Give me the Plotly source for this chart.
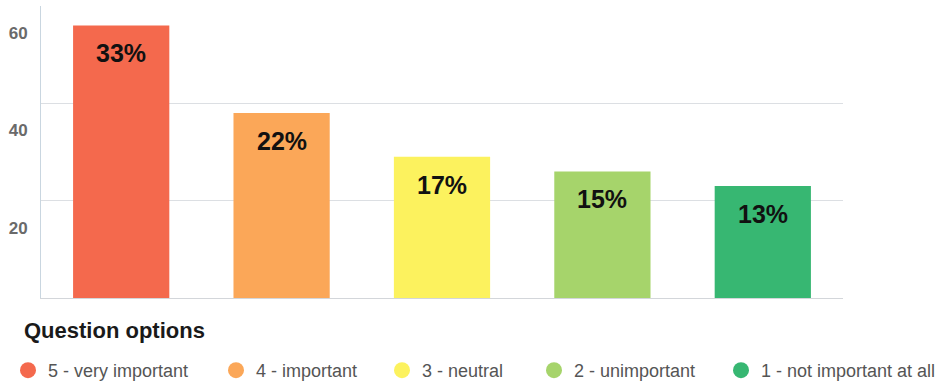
import plotly.graph_objects as go

# Survey answers: response counts per option
options = ["5 - very important", "4 - important", "3 - neutral",
           "2 - unimportant", "1 - not important at all"]
counts = [56, 38, 29, 26, 23]
colors = ["#F4694D", "#FBA758", "#FCF25E", "#A6D46B", "#37B772"]
tick_values = [20, 40, 60]
legend_title = "Question options"

total = sum(counts)
pct_labels = [f"{round(c / total * 100)}%" for c in counts]

# left edge (px) of each legend entry along the bottom row
legend_left_px = [8, 216, 382, 534, 721]

fig = go.Figure()

fig.add_trace(go.Bar(
    x=options, y=counts,
    marker=dict(color=colors, line=dict(width=0)),
    showlegend=False, hoverinfo="skip",
))

# Percentage labels inside the top of each bar
for opt, c, lab in zip(options, counts, pct_labels):
    fig.add_annotation(
        x=opt, y=c, text=f"<b>{lab}</b>", showarrow=False,
        yanchor="middle", yshift=-28,
        font=dict(family="Liberation Sans, Arial, sans-serif", size=25, color="#111111"),
    )

# Round legend keys, one legend box per option so each sits at its own spot
legend_layouts = {}
for i, (opt, col, lx) in enumerate(zip(options, colors, legend_left_px)):
    key = "legend" if i == 0 else f"legend{i + 1}"
    fig.add_trace(go.Scatter(
        x=[None], y=[None], mode="markers", name=opt, legend=key,
        marker=dict(symbol="circle", size=16, color=col),
    ))
    legend_layouts[key] = dict(
        orientation="h",
        xref="container", yref="container",
        x=lx / 942, y=1 - 352 / 383,
        xanchor="left", yanchor="top",
        font=dict(size=18, color="#555555"),
        bgcolor="rgba(0,0,0,0)",
        itemclick=False, itemdoubleclick=False,
    )

# Legend heading
fig.add_annotation(
    xref="paper", yref="paper", x=-0.024, y=-0.11,
    xanchor="left", yanchor="middle", showarrow=False,
    text=f"<b>{legend_title}</b>",
    font=dict(size=22, color="#1a1a1a"),
)

fig.update_layout(
    width=942, height=383,
    margin=dict(l=41, r=99, t=6, b=85),
    paper_bgcolor="white", plot_bgcolor="white",
    bargap=0.4,
    font=dict(family="Liberation Sans, Arial, sans-serif"),
    xaxis=dict(
        showticklabels=False, showgrid=False, zeroline=False,
        showline=True, linecolor="#d3d6da", linewidth=1,
        ticks="",
    ),
    yaxis=dict(
        range=[0, 60], tickvals=tick_values,
        showgrid=True, gridcolor="#dcdfe3", gridwidth=1,
        zeroline=False, showline=True, linecolor="#c9d6e0", linewidth=1,
        ticks="",
        ticklabelshift=27, ticklabelstandoff=9,
        tickfont=dict(size=17, color="#6a6a6a", weight="bold"),
    ),
    **legend_layouts,
)

fig.write_html("out.html")
